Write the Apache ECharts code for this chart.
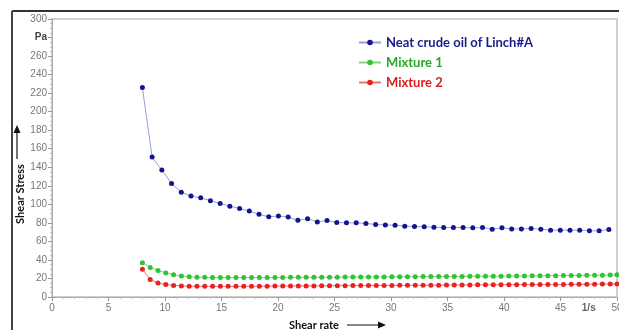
<!DOCTYPE html>
<html>
<head>
<meta charset="utf-8">
<script src="https://cdn.jsdelivr.net/npm/echarts@6/dist/echarts.min.js"></script>
<style>
  html, body { margin: 0; padding: 0; background: #fff; }
  #chart { width: 619px; height: 330px; }
</style>
</head>
<body>
<div id="chart"></div>
<script>
// shear rate (1/s) of the neat oil readings
var rateNeat = [8.0, 8.86, 9.72, 10.58, 11.44, 12.3, 13.16, 14.02, 14.88, 15.74,
  16.6, 17.46, 18.32, 19.18, 20.04, 20.9, 21.76, 22.62, 23.48, 24.34,
  25.2, 26.06, 26.92, 27.78, 28.64, 29.5, 30.36, 31.22, 32.08, 32.94,
  33.8, 34.66, 35.52, 36.38, 37.24, 38.1, 38.96, 39.82, 40.68, 41.54,
  42.4, 43.26, 44.12, 44.98, 45.84, 46.7, 47.56, 48.42, 49.28];
// shear stress (Pa), neat crude oil of Linch#A
var stressNeat = [226, 151, 137, 122.5, 113, 109, 107, 104, 101, 98,
  95.5, 92.7, 89.2, 86.5, 87.5, 86.2, 82.8, 84.5, 81, 82.5,
  80.4, 80, 80, 79.3, 78.3, 77.8, 77.5, 76.4, 76.1, 75.7,
  75.4, 75, 75, 75, 74.6, 75, 73.2, 74.6, 73.5, 73.5,
  73.9, 73.2, 72.1, 72.1, 72.1, 72.1, 71.4, 71.4, 72.8];

// shear rate (1/s) of the mixture readings
var rateMix = [8.0, 8.69, 9.38, 10.07, 10.76, 11.45, 12.14, 12.83, 13.52, 14.21,
  14.9, 15.59, 16.28, 16.97, 17.66, 18.35, 19.04, 19.73, 20.42, 21.11,
  21.8, 22.49, 23.18, 23.87, 24.56, 25.25, 25.94, 26.63, 27.32, 28.01,
  28.7, 29.39, 30.08, 30.77, 31.46, 32.15, 32.84, 33.53, 34.22, 34.91,
  35.6, 36.29, 36.98, 37.67, 38.36, 39.05, 39.74, 40.43, 41.12, 41.81,
  42.5, 43.19, 43.88, 44.57, 45.26, 45.95, 46.64, 47.33, 48.02, 48.71,
  49.4, 50.0];
var stressMix1 = [37, 31.8, 28.7, 26, 24, 22.6, 21.8, 21.4, 21.2, 21,
  21, 21, 21, 21, 21, 21, 21, 21.1, 21.1, 21.2,
  21.2, 21.2, 21.3, 21.3, 21.4, 21.4, 21.5, 21.5, 21.6, 21.6,
  21.7, 21.7, 21.8, 21.8, 21.9, 21.9, 22, 22, 22.1, 22.1,
  22.2, 22.2, 22.3, 22.3, 22.4, 22.5, 22.5, 22.6, 22.7, 22.7,
  22.8, 22.9, 23, 23, 23.1, 23.2, 23.3, 23.4, 23.5, 23.6,
  23.8, 24];
var stressMix2 = [30, 18.8, 15.2, 13.4, 12.5, 12, 11.7, 11.6, 11.5, 11.5,
  11.5, 11.5, 11.5, 11.6, 11.6, 11.7, 11.7, 11.8, 11.8, 11.9,
  11.9, 12, 12, 12.1, 12.1, 12.2, 12.2, 12.3, 12.3, 12.4,
  12.4, 12.5, 12.5, 12.6, 12.6, 12.7, 12.7, 12.8, 12.8, 12.9,
  12.9, 13, 13, 13.1, 13.1, 13.2, 13.2, 13.3, 13.3, 13.4,
  13.4, 13.5, 13.5, 13.6, 13.6, 13.7, 13.7, 13.8, 13.8, 13.9,
  14, 14];

var seriesNames = ['Neat crude oil of Linch#A', 'Mixture 1', 'Mixture 2'];
var pointColors = ['#14148c', '#33c233', '#e62222'];
var lineColors = ['#9a9ae0', '#7ed67e', '#f07070'];
var textColors = ['#1c1c8a', '#2aa82a', '#d82020'];

function pairs(xs, ys) {
  return xs.map(function (x, i) { return [x, ys[i]]; });
}

var chart = echarts.init(document.getElementById('chart'));

var labelFont = { color: '#777', fontSize: 10, fontFamily: 'Liberation Sans' };

function makeSeries(idx, data) {
  return {
    name: seriesNames[idx],
    type: 'line',
    data: data,
    symbol: 'circle',
    symbolSize: 5,
    showSymbol: true,
    itemStyle: { color: pointColors[idx] },
    lineStyle: { color: lineColors[idx], width: 1 }
  };
}

var option = {
  animation: false,
  grid: {
    left: 52, right: 2, top: 19, bottom: 33,
    outerBoundsMode: 'none',
    containLabel: false,
    show: true, borderColor: '#cfcfcf', borderWidth: 2
  },
  legend: {
    orient: 'vertical',
    left: 353,
    top: 31,
    itemWidth: 22,
    itemHeight: 7,
    itemGap: 7,
    textStyle: { fontSize: 13, fontWeight: 'bold', fontFamily: 'Lato' },
    data: seriesNames.map(function (n, i) {
      return { name: n, textStyle: { color: textColors[i] } };
    })
  },
  xAxis: {
    type: 'value',
    min: 0, max: 50, interval: 5,
    axisLine: { show: true, lineStyle: { color: '#aaa' } },
    axisTick: { show: true, length: 4, lineStyle: { color: '#999' } },
    minorTick: { show: true, splitNumber: 5, length: 2, lineStyle: { color: '#bbb' } },
    splitLine: { show: false },
    axisLabel: Object.assign({ margin: 6, showMaxLabel: true, hideOverlap: false }, labelFont)
  },
  yAxis: {
    type: 'value',
    min: 0, max: 300, interval: 20,
    axisLine: { show: true, lineStyle: { color: '#aaa' } },
    axisTick: { show: true, length: 4, lineStyle: { color: '#999' } },
    minorTick: { show: true, splitNumber: 4, length: 2, lineStyle: { color: '#bbb' } },
    splitLine: { show: false },
    axisLabel: Object.assign({ margin: 5,
      formatter: function (v) { return v === 280 ? '{pa|Pa}' : String(v); },
      rich: { pa: { fontWeight: 'bold', color: '#444', fontSize: 10, fontFamily: 'Liberation Sans' } }
    }, labelFont)
  },
  series: [
    makeSeries(0, pairs(rateNeat, stressNeat)),
    makeSeries(1, pairs(rateMix, stressMix1)),
    makeSeries(2, pairs(rateMix, stressMix2))
  ]
};

chart.setOption(option);

// unit label sits between the 45 and 50 ticks
var unitX = chart.convertToPixel({ xAxisIndex: 0 }, 47.5);
var axisY = chart.convertToPixel({ yAxisIndex: 0 }, 0);

chart.setOption({
  graphic: [
    // outer frame
    { type: 'line', shape: { x1: 12, y1: 11, x2: 619, y2: 11 }, style: { stroke: '#333', lineWidth: 2 }, silent: true },
    { type: 'line', shape: { x1: 12, y1: 11, x2: 12, y2: 330 }, style: { stroke: '#444', lineWidth: 2 }, silent: true },
    // unit on x axis
    { type: 'text', x: unitX, y: axisY + 6, style: { text: '1/s', fill: '#666', fontSize: 10, fontWeight: 'bold', fontFamily: 'Liberation Sans', align: 'center', verticalAlign: 'top' } },
    // x axis title
    { type: 'text', x: 314, y: 325, style: { text: 'Shear rate', fill: '#111', fontSize: 11, fontWeight: 'bold', fontFamily: 'Lato', align: 'center', verticalAlign: 'middle' } },
    { type: 'line', shape: { x1: 347, y1: 325, x2: 380, y2: 325 }, style: { stroke: '#111', lineWidth: 1.2 } },
    { type: 'polygon', shape: { points: [[386, 325], [378, 321.5], [378, 328.5]] }, style: { fill: '#111' } },
    // y axis title
    { type: 'text', x: 20, y: 194, rotation: Math.PI / 2, style: { text: 'Shear Stress', fill: '#111', fontSize: 11, fontWeight: 'bold', fontFamily: 'Lato', align: 'center', verticalAlign: 'middle' } },
    { type: 'line', shape: { x1: 17, y1: 159, x2: 17, y2: 132 }, style: { stroke: '#111', lineWidth: 1.2 } },
    { type: 'polygon', shape: { points: [[17, 125], [13.5, 133], [20.5, 133]] }, style: { fill: '#111' } }
  ]
});
</script>
</body>
</html>
